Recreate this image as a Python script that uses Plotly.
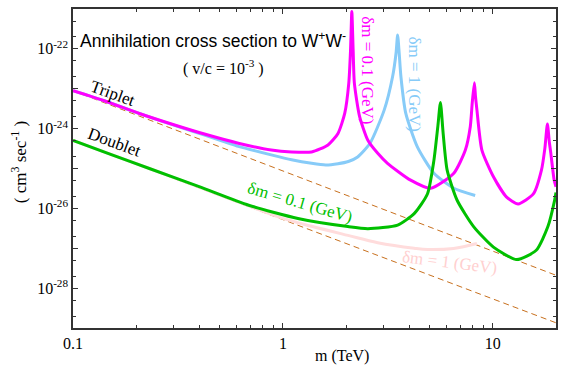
import plotly.graph_objects as go

# ---------------- data ----------------
m_trip01 = [0.1, 0.144, 0.207, 0.297, 0.427, 0.613, 0.88, 1.1, 1.37, 1.64, 1.83, 1.97, 2.06, 2.10, 2.13,
            2.16, 2.19, 2.32, 2.54, 2.83, 3.15, 4.06, 5.06, 6.52, 7.4, 7.81, 7.98, 8.17, 8.27, 8.4, 8.87,
            10.07, 11.6, 13.2, 15.6, 17.05, 17.7, 18.2, 18.6, 18.9, 19.6, 20.0]
s_trip01 = [8.9e-24, 4.8e-24, 2.4e-24, 1.29e-24, 7.2e-25, 4.3e-25, 2.9e-25, 2.6e-25, 2.6e-25, 3.9e-25,
            7.6e-25, 2.4e-24, 1.38e-23, 9.3e-23, 8.7e-22, 1.0e-22, 1.38e-23, 2.0e-24, 5.1e-25, 2.4e-25,
            1.35e-25, 5.1e-26, 3.2e-26, 7.6e-26, 2.9e-25, 1.12e-24, 4.4e-24, 1.41e-23, 6.3e-24, 2.95e-24,
            2.9e-25, 6.2e-26, 1.95e-26, 1.29e-26, 2.3e-26, 9.1e-26, 3.2e-25, 1.3e-24, 4.5e-25, 2.4e-25,
            5.1e-26, 3.5e-26]

m_trip1 = [0.1, 0.144, 0.207, 0.297, 0.427, 0.613, 0.88, 1.1, 1.37, 1.6, 1.83, 2.05, 2.27, 2.6, 3.04,
           3.33, 3.46, 3.52, 3.58, 3.65, 3.85, 4.37, 5.24, 6.52, 8.24]
s_trip1 = [8.9e-24, 4.8e-24, 2.4e-24, 1.26e-24, 6.8e-25, 3.6e-25, 2.2e-25, 1.66e-25, 1.35e-25, 1.23e-25,
           1.32e-25, 1.5e-25, 1.95e-25, 4.3e-25, 2.95e-24, 2.0e-23, 7.9e-23, 2.24e-22, 7.9e-23, 2.0e-23,
           2.4e-24, 3.5e-25, 7.6e-26, 3.2e-26, 2.1e-26]

m_doub01 = [0.1, 0.15, 0.231, 0.399, 0.687, 1.18, 2.04, 2.54, 3.52, 4.22, 4.88, 5.24, 5.47, 5.63, 5.8,
            6.06, 6.76, 8.1, 10.07, 13.0, 16.1, 18.3, 19.7, 20.0]
s_doub01 = [5.1e-25, 2.3e-25, 1.0e-25, 3.5e-26, 1.2e-26, 5.6e-27, 3.5e-27, 3.1e-27, 3.8e-27, 7.4e-27,
            2.3e-26, 1.6e-25, 1.12e-24, 4.5e-24, 7.6e-25, 9.1e-26, 1.6e-26, 3.5e-27, 1.07e-27, 5.2e-28,
            8.9e-28, 3.5e-27, 1.6e-26, 2.5e-26]

m_doub1 = [0.1, 0.231, 0.399, 0.687, 1.0, 1.37, 2.04, 2.83, 4.22, 4.9, 6.5, 8.4]
s_doub1 = [5.1e-25, 1.0e-25, 3.4e-26, 1.15e-26, 5.6e-27, 3.55e-27, 2.1e-27, 1.38e-27, 1.0e-27, 9.3e-28,
           9.9e-28, 1.32e-27]

m_asym = [0.1, 20.0]
s_asym_trip = [8.9e-24, 2.1e-28]
s_asym_doub = [5.1e-25, 1.35e-29]

x_tickvals = [0.1, 1, 10]
x_ticktext = ["0.1", "1", "10"]
y_tickvals = [1e-29, 1e-28, 1e-27, 1e-26, 1e-25, 1e-24, 1e-23, 1e-22, 1e-21]
y_ticktext = ["", "10<sup>-28</sup>", "", "10<sup>-26</sup>", "", "10<sup>-24</sup>", "", "10<sup>-22</sup>", ""]

# ---------------- styles ----------------
MAGENTA = "#ff00ff"
LBLUE = "#87cbf8"
GREEN = "#00c000"
PINK = "#ffdcdc"
DASH = "#c8701e"
SERIF = "Liberation Serif"

W, H = 561, 371
L, R, T, B = 73, 3, 9, 43


def px(xp):
    return (xp - L) / (W - L - R)


def py(yp):
    return 1 - (yp - T) / (H - T - B)


fig = go.Figure()
for s in (s_asym_trip, s_asym_doub):
    fig.add_trace(go.Scatter(x=m_asym, y=s, mode="lines",
                             line=dict(color=DASH, width=1, dash="6px,4px")))
fig.add_trace(go.Scatter(x=m_doub1, y=s_doub1, mode="lines",
                         line=dict(color=PINK, width=3, shape="spline", smoothing=1.0)))
fig.add_trace(go.Scatter(x=m_trip1, y=s_trip1, mode="lines",
                         line=dict(color=LBLUE, width=3, shape="spline", smoothing=0.6)))
fig.add_trace(go.Scatter(x=m_trip01, y=s_trip01, mode="lines",
                         line=dict(color=MAGENTA, width=3, shape="spline", smoothing=0.6)))
fig.add_trace(go.Scatter(x=m_doub01, y=s_doub01, mode="lines",
                         line=dict(color=GREEN, width=3, shape="spline", smoothing=0.6)))

ann = []


def add(text, xp, yp, size=17, color="black", angle=0, family=SERIF, xanchor="center"):
    ann.append(dict(text=text, x=px(xp), y=py(yp), xref="paper", yref="paper",
                    showarrow=False, textangle=angle, xanchor=xanchor, yanchor="middle",
                    font=dict(family=family, size=size, color=color)))


add("Annihilation cross section to W<sup>+</sup>W<sup>-</sup>", 78, 40, size=17.5,
    family="Liberation Sans", xanchor="left")
add("( v/c = 10<sup>-3</sup> )", 224, 67, size=16)
add("Triplet", 113, 93, angle=20)
add("Doublet", 115, 142, angle=20)
add("δm = 0.1 (GeV)", 301, 202, color=GREEN, angle=16)
add("δm = 1 (GeV)", 452, 262, color="#ffd0d0", angle=7)
add("δm = 0.1 (GeV)", 369, 70, color=MAGENTA, angle=90)
add("δm = 1 (GeV)", 416, 84, color=LBLUE, angle=90)
add("( cm<sup>3</sup> sec<sup>-1</sup> )", 19, 162, size=17, angle=-90)
add("m (TeV)", 343, 356, size=16)

fig.update_layout(
    width=W, height=H, margin=dict(l=L, r=R, t=T, b=B),
    paper_bgcolor="white", plot_bgcolor="white", showlegend=False,
    annotations=ann,
    xaxis=dict(type="log", range=[-1, 1.30103], tickvals=x_tickvals, ticktext=x_ticktext,
               ticks="inside", ticklen=5, tickcolor="#333", tickwidth=1,
               minor=dict(dtick="D1", ticks="inside", ticklen=3, tickcolor="#333"),
               showline=True, linecolor="#333", linewidth=1.5, mirror="ticks",
               showgrid=False, zeroline=False,
               tickfont=dict(family=SERIF, size=16, color="black")),
    yaxis=dict(type="log", range=[-29, -21], tickvals=y_tickvals, ticktext=y_ticktext,
               ticks="inside", ticklen=5, tickcolor="#333", tickwidth=1,
               minor=dict(dtick="D2", ticks="inside", ticklen=3, tickcolor="#333"),
               showline=True, linecolor="#333", linewidth=1.5, mirror="ticks",
               showgrid=False, zeroline=False,
               tickfont=dict(family=SERIF, size=16, color="black")),
)

fig.write_html("out.html")
